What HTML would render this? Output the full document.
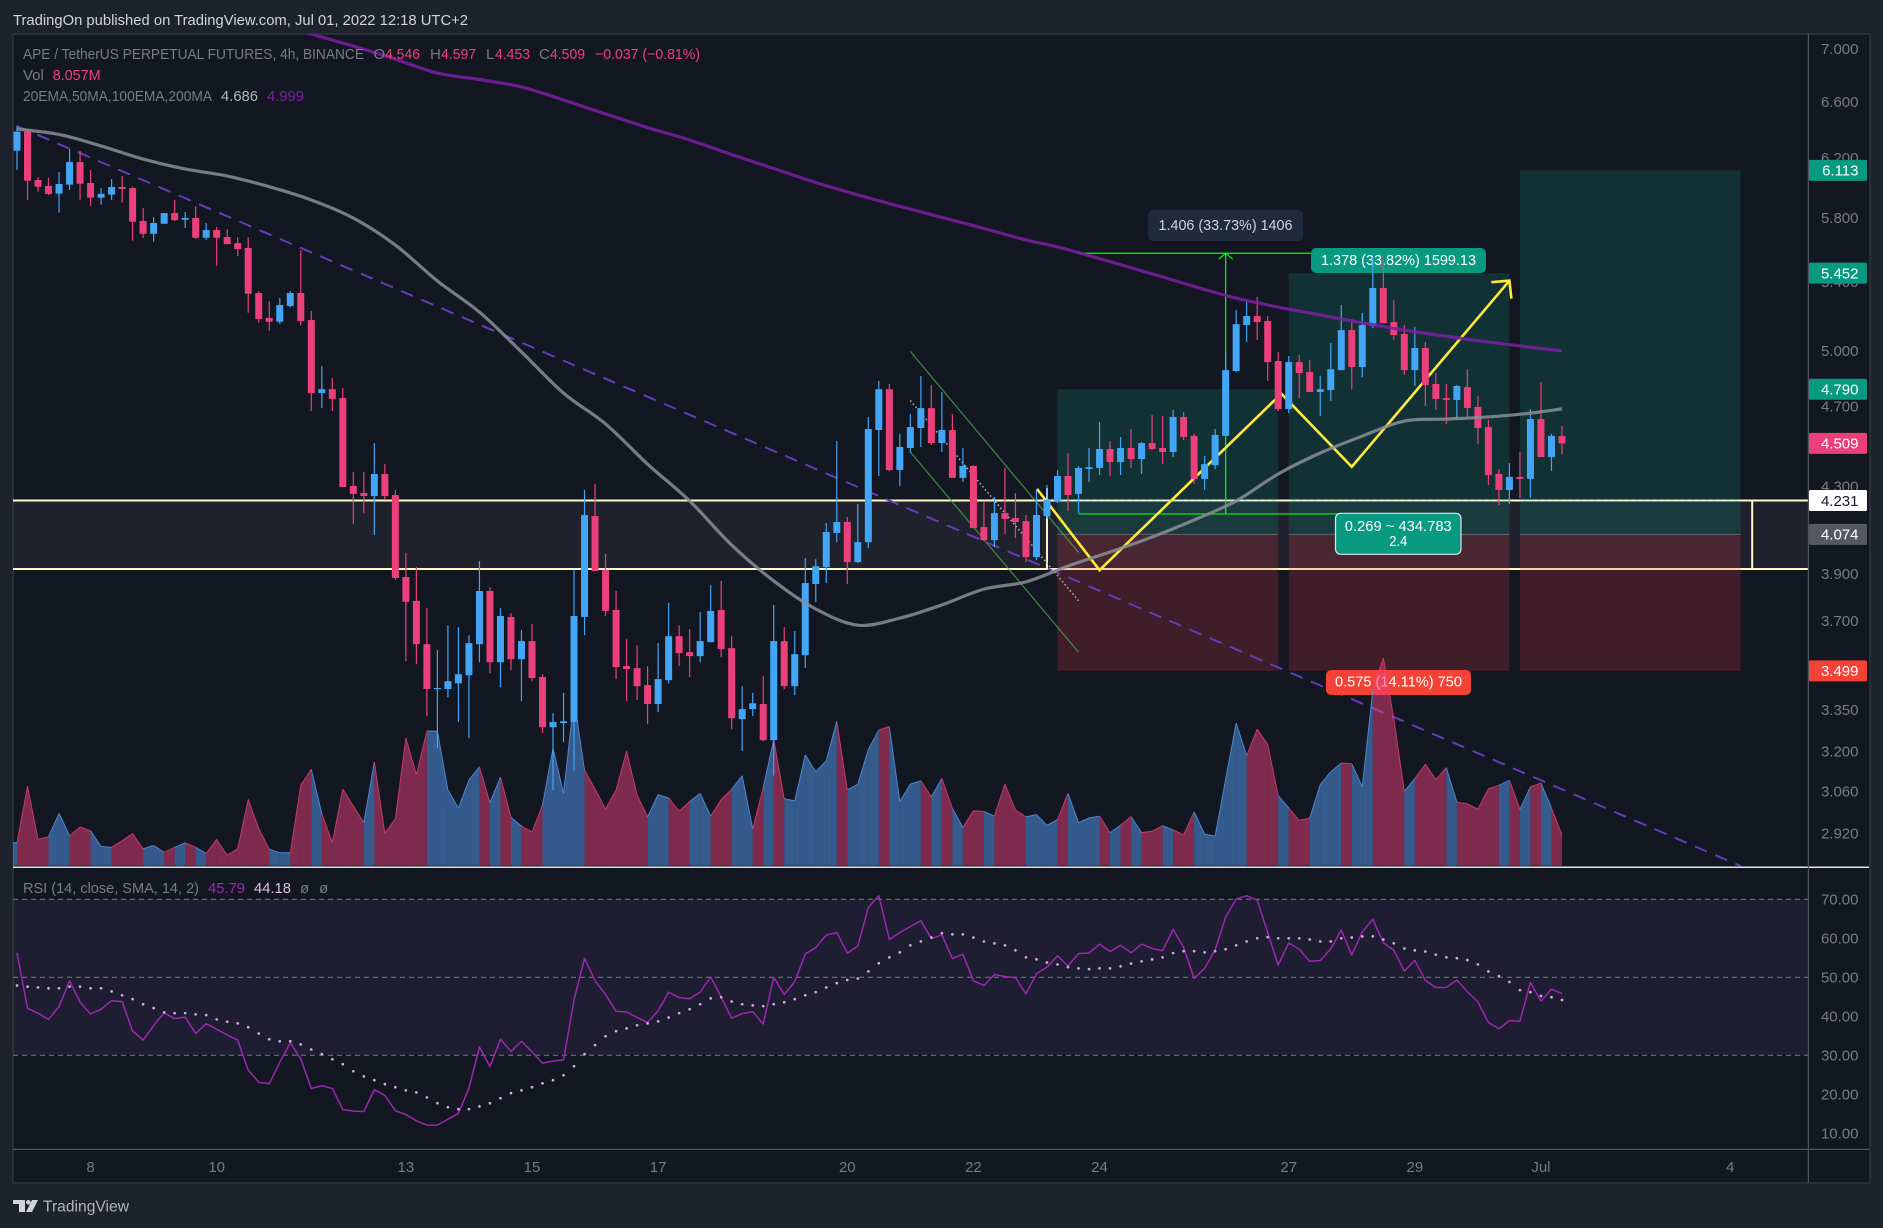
<!DOCTYPE html>
<html lang="en">
<head>
<meta charset="utf-8">
<title>APE / TetherUS Perpetual Futures 4h chart</title>
<style>
  html, body { margin: 0; padding: 0; background: #1e222d; width: 1883px; height: 1228px; overflow: hidden; }
  svg { display: block; }
  text { font-family: "Liberation Sans", sans-serif; }
</style>
</head>
<body>
<svg id="chart" xmlns="http://www.w3.org/2000/svg" width="1883" height="1228" viewBox="0 0 1883 1228">
  <defs>
    <clipPath id="price-clip"><rect x="13" y="34" width="1795" height="832.5"/></clipPath>
    <clipPath id="rsi-clip"><rect x="13" y="868" width="1795" height="281"/></clipPath>
  </defs>

  <rect x="0" y="0" width="1883" height="1228" fill="#1e222d"/>
  <text x="13" y="25" font-size="15" fill="#d1d4dc" textLength="455" lengthAdjust="spacingAndGlyphs">TradingOn published on TradingView.com, Jul 01, 2022 12:18 UTC+2</text>

  <rect x="13" y="34" width="1857" height="1149" fill="#131722" stroke="#2a2e39" stroke-width="2"/>

  <g id="drawings-back" clip-path="url(#price-clip)"></g>
  <g id="volume-layer" clip-path="url(#price-clip)"></g>
  <g id="candle-layer" clip-path="url(#price-clip)"></g>
  <g id="ma-layer" clip-path="url(#price-clip)"></g>

  <g id="rsi-layer" clip-path="url(#rsi-clip)"></g>

  <line x1="13" y1="867.3" x2="1869" y2="867.3" stroke="#e0e3eb" stroke-width="1.5"/>
  <line x1="13" y1="1149.4" x2="1869" y2="1149.4" stroke="#50535e" stroke-width="1.2"/>
  <line x1="1808.4" y1="34" x2="1808.4" y2="1183" stroke="#50535e" stroke-width="1.2"/>

  <g id="price-axis"></g>
  <g id="rsi-axis"></g>
  <g id="time-axis"></g>
  <g id="price-tags"></g>

  <g font-size="15">
    <text x="23" y="59" fill="#787b86" textLength="341" lengthAdjust="spacingAndGlyphs">APE / TetherUS PERPETUAL FUTURES, 4h, BINANCE</text>
    <text x="373.5" y="59" fill="#787b86">O</text>
    <text x="385" y="59" fill="#ec407a" textLength="35" lengthAdjust="spacingAndGlyphs">4.546</text>
    <text x="430" y="59" fill="#787b86">H</text>
    <text x="441" y="59" fill="#ec407a" textLength="35" lengthAdjust="spacingAndGlyphs">4.597</text>
    <text x="486" y="59" fill="#787b86">L</text>
    <text x="495" y="59" fill="#ec407a" textLength="35" lengthAdjust="spacingAndGlyphs">4.453</text>
    <text x="539" y="59" fill="#787b86">C</text>
    <text x="550" y="59" fill="#ec407a" textLength="35" lengthAdjust="spacingAndGlyphs">4.509</text>
    <text x="595" y="59" fill="#ec407a" textLength="105" lengthAdjust="spacingAndGlyphs">−0.037 (−0.81%)</text>
    <text x="23" y="80" fill="#787b86">Vol</text>
    <text x="52.6" y="80" fill="#ec407a" textLength="48" lengthAdjust="spacingAndGlyphs">8.057M</text>
    <text x="23" y="101" fill="#787b86" textLength="189" lengthAdjust="spacingAndGlyphs">20EMA,50MA,100EMA,200MA</text>
    <text x="221" y="101" fill="#b2b5be" textLength="37" lengthAdjust="spacingAndGlyphs">4.686</text>
    <text x="267" y="101" fill="#7b1fa2" textLength="37" lengthAdjust="spacingAndGlyphs">4.999</text>
    <text x="23" y="893" fill="#787b86" textLength="176" lengthAdjust="spacingAndGlyphs">RSI (14, close, SMA, 14, 2)</text>
    <text x="208" y="893" fill="#9c27b0" textLength="37" lengthAdjust="spacingAndGlyphs">45.79</text>
    <text x="254" y="893" fill="#e1bee7" textLength="37" lengthAdjust="spacingAndGlyphs">44.18</text>
    <text x="300" y="893" fill="#787b86">ø</text>
    <text x="319" y="893" fill="#787b86">ø</text>
  </g>

  <g>
    <path fill="#d1d4dc" d="M13 1200h12v12h-6v-8h-6z M32 1200h6l-6 12h-6z"/>
    <circle cx="28.3" cy="1202.3" r="2.3" fill="#d1d4dc"/>
    <text x="43" y="1211.7" font-size="16" fill="#b2b5be" textLength="86" lengthAdjust="spacingAndGlyphs">TradingView</text>
  </g>

<script>
// ---- chart data ----
const opens = [6.249,6.383,6.048,6.008,5.957,6.017,6.170,6.028,5.930,5.950,
6.001,5.994,5.778,5.696,5.760,5.829,5.786,5.797,5.671,5.720,
5.675,5.637,5.607,5.332,5.186,5.164,5.255,5.332,5.174,4.769,
4.790,4.743,4.300,4.267,4.252,4.358,4.257,3.885,3.783,3.605,
3.429,3.429,3.451,3.482,3.605,3.825,3.533,3.715,3.545,3.617,
3.475,3.286,3.301,3.305,3.716,4.158,3.915,3.745,3.518,3.510,
3.444,3.372,3.463,3.637,3.573,3.557,3.613,3.745,3.589,3.316,
3.353,3.372,3.239,3.617,3.440,3.561,3.855,3.928,4.081,4.131,
3.950,4.039,4.577,4.790,4.377,4.486,4.587,4.690,4.511,4.577,
4.339,4.397,4.108,4.048,4.172,4.149,4.135,3.972,4.158,4.229,
4.348,4.262,4.382,4.387,4.481,4.416,4.486,4.431,4.511,4.486,
4.466,4.644,4.547,4.334,4.401,4.547,4.888,5.145,5.197,5.168,
4.943,4.685,4.937,4.883,4.775,4.785,4.893,5.116,4.910,5.139,
5.362,5.162,5.094,4.893,5.015,4.818,4.743,4.733,4.801,4.696,
4.592,4.358,4.281,4.344,4.334,4.633,4.441,4.546];
const highs = [6.423,6.388,6.068,6.063,6.102,6.261,6.247,6.116,5.994,6.055,
6.075,6.003,5.862,5.803,5.829,5.915,5.836,5.875,5.765,5.739,
5.726,5.675,5.675,5.344,5.284,5.302,5.344,5.594,5.226,4.915,
4.850,4.796,4.367,4.367,4.511,4.406,4.281,3.991,3.928,3.753,
3.581,3.682,3.674,3.641,3.954,3.842,3.753,3.732,3.662,3.687,
3.486,3.338,3.414,3.915,4.281,4.310,3.986,3.825,3.625,3.601,
3.517,3.609,3.775,3.682,3.666,3.737,3.850,3.868,3.637,3.440,
3.414,3.478,3.766,3.674,3.658,3.968,3.963,4.126,4.521,4.154,
4.214,4.644,4.834,4.818,4.557,4.659,4.861,4.812,4.775,4.659,
4.486,4.401,4.224,4.247,4.387,4.266,4.163,4.286,4.305,4.377,
4.461,4.396,4.486,4.618,4.521,4.541,4.582,4.516,4.654,4.649,
4.680,4.670,4.557,4.446,4.582,4.989,5.232,5.284,5.308,5.197,
4.993,4.970,4.976,4.948,4.861,5.043,5.261,5.180,5.215,5.550,
5.557,5.290,5.145,5.133,5.049,4.877,4.818,4.812,4.898,4.754,
4.628,4.382,4.411,4.466,4.685,4.828,4.557,4.597];
const lows = [6.116,5.915,5.970,5.948,5.832,5.981,5.915,5.875,5.884,5.915,
5.897,5.652,5.669,5.646,5.760,5.778,5.733,5.664,5.656,5.496,
5.631,5.557,5.216,5.158,5.112,5.152,5.249,5.142,4.675,4.691,
4.675,4.295,4.122,4.172,4.071,4.238,3.872,3.537,3.525,3.327,
3.210,3.398,3.305,3.246,3.533,3.490,3.436,3.502,3.383,3.459,
3.264,3.063,3.232,3.129,3.642,3.911,3.720,3.467,3.383,3.387,
3.297,3.342,3.451,3.518,3.475,3.533,3.613,3.553,3.279,3.200,
3.327,3.235,3.114,3.429,3.406,3.510,3.778,3.859,4.039,3.855,
3.946,4.012,4.348,4.372,4.300,4.461,4.491,4.501,4.466,4.339,
4.319,4.103,4.044,4.017,4.076,4.057,3.950,3.959,4.145,4.219,
4.181,4.172,4.319,4.353,4.348,4.353,4.387,4.358,4.476,4.406,
4.441,4.526,4.310,4.281,4.382,4.547,4.883,5.049,5.060,4.834,
4.675,4.664,4.743,4.775,4.649,4.727,4.893,4.790,4.855,5.127,
5.156,5.060,4.866,4.807,4.701,4.680,4.608,4.639,4.644,4.506,
4.305,4.210,4.214,4.243,4.243,4.441,4.372,4.453];
const closes = [6.383,6.043,6.003,5.955,6.021,6.170,6.023,5.930,5.955,6.001,
5.988,5.773,5.696,5.765,5.829,5.784,5.797,5.671,5.720,5.671,
5.631,5.600,5.328,5.180,5.164,5.261,5.332,5.168,4.769,4.790,
4.738,4.295,4.262,4.252,4.358,4.252,3.881,3.779,3.605,3.429,
3.433,3.459,3.486,3.609,3.825,3.533,3.720,3.545,3.617,3.471,
3.286,3.305,3.308,3.720,4.163,3.911,3.741,3.514,3.506,3.440,
3.372,3.467,3.637,3.569,3.557,3.617,3.741,3.585,3.319,3.353,
3.375,3.239,3.617,3.440,3.565,3.859,3.932,4.085,4.131,3.950,
4.039,4.582,4.790,4.377,4.491,4.592,4.690,4.511,4.577,4.339,
4.397,4.103,4.048,4.172,4.145,4.131,3.972,4.163,4.233,4.348,
4.257,4.387,4.391,4.481,4.416,4.486,4.431,4.511,4.481,4.466,
4.644,4.541,4.334,4.406,4.552,4.893,5.150,5.197,5.162,4.937,
4.685,4.937,4.877,4.775,4.790,4.898,5.116,4.910,5.145,5.362,
5.156,5.088,4.893,5.015,4.812,4.738,4.733,4.807,4.691,4.587,
4.353,4.281,4.344,4.334,4.633,4.441,4.547,4.509];
const volumes = [5.98,20.7,6.85,7.54,13.6,7.8,10.1,9.02,5.03,4.77,
6.5,8.32,4.42,5.29,3.47,4.77,5.98,4.77,3.21,6.85,
2.69,4.42,17.25,9.71,4.25,3.38,3.38,20.9,25.06,13.6,
5.98,19.9,15.5,11.2,27.0,8.41,12.2,33.2,23.7,35.0,
35.0,19.7,15.0,22.3,25.7,16.4,23.0,12.6,10.3,8.76,
15.8,30.6,18.8,43.4,24.9,19.9,14.7,19.7,29.8,18.4,
12.7,18.5,17.6,14.2,16.7,18.8,12.9,17.2,19.9,23.4,
9.58,20.3,32.8,17.4,16.9,28.8,24.4,27.3,37.6,19.7,
21.2,30.2,35.3,36.2,16.7,21.2,22.1,17.9,22.7,14.9,
10,14.3,14.1,12.9,21.2,14.5,12.7,13.3,10.5,12,
18.8,11.2,12.4,12.9,8.6,10.5,12.8,8.6,8.95,10.4,
9.3,8,14,8.2,7.7,22.5,37.1,28.6,35.5,31.6,
18.2,15,11.8,12.4,21.1,24.4,26.7,26.5,20.5,45.7,
54,38.2,19.3,22.7,26.4,22.4,25.5,16.5,16.1,14.7,
20,20.9,22.2,14.7,20.5,21.5,15,8.057];
const rsiValues = [56.3,42.05,40.8,39.2,42.5,49.1,43.6,40.6,41.8,44,
43.8,36.2,33.9,37.6,40.9,39.4,39.8,35.6,38.1,36.7,
35.2,33.9,26.2,23.1,22.7,28.2,33.2,29.1,21.5,22.2,
21.5,16.1,15.7,15.6,21.2,19.7,15.8,14.8,13.2,12.1,
12.1,13.6,15.1,21.6,32.1,27.1,34.1,31,33.6,30.9,
28,28.5,28.8,44.2,54.9,49.1,45.6,41.3,41.1,39.7,
38.4,41.4,46.2,44.8,44.5,46.2,50.1,44.9,39.5,40.7,
41.2,38,50,45.6,48.9,56,57.6,60.8,61.5,56.2,
58,67.9,70.9,59.7,61.5,63,64.5,59.9,60.9,54.8,
55.9,49.1,47.9,50.7,50.2,49.9,45.8,50.9,52.6,55.5,
52.9,56.1,56.2,58.5,56.6,58.2,56.3,58.5,57.4,56.8,
62.3,57.7,49.7,52.3,57,65.4,70.1,70.9,69.8,61.5,
53.1,58.8,57.2,54.1,54.3,57.3,62.1,55.7,61.6,64.9,
58.9,56.9,51.6,54.3,49.2,47.4,47.4,49.3,46.3,43.7,
38.4,36.8,38.9,38.7,48.7,43.9,47,45.79];
const rsiMaValues = [47.9,47.6,47.4,47.2,47.2,47.6,47.6,47.2,47.2,46.4,
45.4,44.4,43.1,42.1,41,40.8,40.8,40.5,40.3,39.2,
38.6,38.2,37.2,35.6,34.1,33.6,33.6,32.8,31.5,30.3,
29,27.7,25.9,24.6,23.6,22.6,21.8,21,20.5,19.2,
17.7,16.7,16.2,16.2,16.9,17.7,19,20.3,21,21.8,
22.8,23.6,24.9,27.2,30.3,32.6,34.9,36.2,36.9,37.7,
38.2,38.7,39.7,40.8,41.8,43.1,44.6,44.9,43.8,43.1,
42.8,42.6,43.1,43.6,44.4,45.4,46.2,47.4,48.5,49.3,
49.7,51.5,53.6,55.1,56.4,58.2,59.2,60.2,61.3,61,
61,60.2,59.2,58.7,58.2,56.9,55.1,54.6,53.8,53.3,
52.6,52.3,52.1,52.3,52.3,52.8,53.5,54.1,54.6,55.1,
56.2,56.7,56.7,56.4,56.7,57.2,58.2,59.2,60,60.3,
60,60,60,59.7,59.2,59.2,60,60.2,60.5,60.5,
59.7,58.7,57.4,56.9,56.6,55.8,55.1,54.9,54.4,53.3,
51.5,50.3,48.8,46.7,46.2,45.2,44.9,44.18];
const ma50Bars = [0,4,8,12,16,20,24,28,32,36,40,44,48,52,56,60,64,68,72,76,80,84,88,92,96,100,104,108,112,116,120,124,128,132,136,140,144,147];
const ma50Values = [6.402,6.363,6.282,6.191,6.123,6.075,6.003,5.915,5.797,5.625,5.404,5.220,4.993,4.769,4.608,4.406,4.229,4.026,3.868,3.749,3.682,3.711,3.766,3.833,3.864,3.933,3.995,4.062,4.140,4.229,4.358,4.461,4.546,4.623,4.633,4.644,4.664,4.686];
const ma200Bars = [24,28,32,36,40,44,48,52,56,60,64,68,72,76,80,84,88,92,96,100,108,116,124,132,140,147];
const ma200Values = [7.229,7.117,7.022,6.920,6.814,6.765,6.709,6.612,6.510,6.412,6.324,6.222,6.126,6.031,5.948,5.873,5.801,5.730,5.657,5.596,5.447,5.302,5.203,5.116,5.049,4.999];
const priceTicks = [7,6.6,6.2,5.8,5.4,5,4.7,4.3,4.1,3.9,3.7,3.35,3.2,3.06,2.92];
const rsiTicks = [70,60,50,40,30,20,10];
const dayLabels = ["8","10","13","15","17","20","22","24","27","29","Jul","4"];
const dayBars = [7,19,37,49,61,79,91,103,121,133,145,163];
const tagPrices = [6.113,5.452,4.790,4.509,4.231,4.074,3.499];
const tagFills = ["#089981","#089981","#089981","#ec407a","#ffffff","#555860","#f44336"];
const tagInk = ["#fff","#fff","#fff","#fff","#131722","#fff","#fff"];

// ---- axis functions ----
const xOf = i => 17 + 10.51 * i;
const yPrice = p => 350.7 - 897 * Math.log(p / 5);
const yVol = v => 865.7 - v / 0.26;
const yRsi = v => 899.3 + (70 - v) * 3.9;

const NS = "http://www.w3.org/2000/svg";
function mk(tag, parent, attrs) {
  const node = document.createElementNS(NS, tag);
  for (const k in attrs) node.setAttribute(k, attrs[k]);
  parent.appendChild(node);
  return node;
}
function smoothPath(pts) {
  let d = `M${pts[0][0]} ${pts[0][1]}`;
  for (let i = 0; i < pts.length - 1; i++) {
    const p0 = pts[Math.max(0, i - 1)], p1 = pts[i], p2 = pts[i + 1], p3 = pts[Math.min(pts.length - 1, i + 2)];
    const c1x = p1[0] + (p2[0] - p0[0]) / 6, c1y = p1[1] + (p2[1] - p0[1]) / 6;
    const c2x = p2[0] - (p3[0] - p1[0]) / 6, c2y = p2[1] - (p3[1] - p1[1]) / 6;
    d += `C${c1x} ${c1y} ${c2x} ${c2y} ${p2[0]} ${p2[1]}`;
  }
  return d;
}
const UP = "#42a5f5", DOWN = "#ec407a";
const gDraw = document.getElementById("drawings-back");
const gVol = document.getElementById("volume-layer");
const gCandle = document.getElementById("candle-layer");
const gMa = document.getElementById("ma-layer");
const gRsi = document.getElementById("rsi-layer");
const gPriceAxis = document.getElementById("price-axis");
const gRsiAxis = document.getElementById("rsi-axis");
const gTimeAxis = document.getElementById("time-axis");
const gTags = document.getElementById("price-tags");
let el;

// ---- support zone ----
const zoneTop = 4.231, zoneBottom = 3.92, zoneEndBar = 165.1;
el = mk("rect", gDraw, {x:13, y:yPrice(zoneTop), width:1795, height:yPrice(zoneBottom)-yPrice(zoneTop), fill:"rgba(255,255,255,0.05)"});


for (const p of [zoneTop, zoneBottom]) {
  el = mk("line", gDraw, {x1:13, x2:1808, y1:yPrice(p), y2:yPrice(p), stroke:"#fff9c4", "stroke-width":2});
  
  
}
el = mk("line", gDraw, {x1:xOf(zoneEndBar), x2:xOf(zoneEndBar), y1:yPrice(zoneTop), y2:yPrice(zoneBottom), stroke:"#fff9c4", "stroke-width":2});


el = mk("line", gDraw, {x1:xOf(98), x2:xOf(98), y1:yPrice(4.29), y2:yPrice(zoneBottom), stroke:"#fff9c4", "stroke-width":2});



// ---- long position tools ----
const posStart = [99,121,143];
const posEnd = [120,142,164];
const posTarget = [4.790,5.452,6.113];
const posEntry = 4.074, posStop = 3.499;
posStart.forEach((s, k) => {
  const x0 = xOf(s), x1 = xOf(posEnd[k]);
  let r = mk("rect", gDraw, {x:x0, y:yPrice(posTarget[k]), width:x1-x0, height:yPrice(posEntry)-yPrice(posTarget[k]), fill:"rgba(8,153,129,0.2)"});
  
  
  r = mk("rect", gDraw, {x:x0, y:yPrice(posEntry), width:x1-x0, height:yPrice(posStop)-yPrice(posEntry), fill:"rgba(242,54,69,0.2)"});
  
  
  r = mk("line", gDraw, {x1:x0, x2:x1, y1:yPrice(posEntry), y2:yPrice(posEntry), stroke:"#787b86", "stroke-opacity":0.7, "stroke-width":1});
  
  
});
el = mk("line", gDraw, {x1:xOf(99), x2:xOf(164), y1:yPrice(zoneTop), y2:yPrice(zoneTop), stroke:"#ffffff", "stroke-opacity":0.8, "stroke-width":1, "stroke-dasharray":"4 3"});



// ---- trend line, channel, dotted path ----
const trendBars = [0,164], trendPrices = [6.423,2.815];
el = mk("line", gDraw, {x1:xOf(trendBars[0]), y1:yPrice(trendPrices[0]), x2:xOf(trendBars[1]), y2:yPrice(trendPrices[1]), stroke:"#673ab7", "stroke-width":2, "stroke-dasharray":"13 9"});



const channelBars = [85,101];
const channelUpper = [4.996,3.993], channelLower = [4.466,3.573], channelMid = [4.73,3.784];
el = mk("line", gDraw, {x1:xOf(channelBars[0]), y1:yPrice(channelUpper[0]), x2:xOf(channelBars[1]), y2:yPrice(channelUpper[1]), stroke:"#4caf50", "stroke-opacity":0.75, "stroke-width":1.2});


el = mk("line", gDraw, {x1:xOf(channelBars[0]), y1:yPrice(channelLower[0]), x2:xOf(channelBars[1]), y2:yPrice(channelLower[1]), stroke:"#4caf50", "stroke-opacity":0.75, "stroke-width":1.2});


el = mk("line", gDraw, {x1:xOf(channelBars[0]), y1:yPrice(channelMid[0]), x2:xOf(channelBars[1]), y2:yPrice(channelMid[1]), stroke:"#b2b5be", "stroke-width":1.5, "stroke-dasharray":"1.5 2.5"});



// ---- measure tool ----
const measureBars = [101,115,129], measureTop = 5.574, measureBottom = 4.168;
for (const p of [measureTop, measureBottom]) {
  el = mk("line", gDraw, {x1:xOf(measureBars[0]), x2:xOf(measureBars[2]), y1:yPrice(p), y2:yPrice(p), stroke:"#00ff00", "stroke-width":1.2});
  
  
}
const mx = xOf(measureBars[1]), myT = yPrice(measureTop), myB = yPrice(measureBottom);
el = mk("line", gDraw, {x1:mx, x2:mx, y1:myT, y2:myB, stroke:"#00ff00", "stroke-width":1.2});


el = mk("path", gDraw, {d:`M${mx-7} ${myT+6}L${mx} ${myT}L${mx+7} ${myT+6}`, fill:"none", stroke:"#00ff00", "stroke-width":1.2});



// ---- yellow projection path ----
const zigBars = [97.05,103,120.3,127,142];
const zigPrices = [4.286,3.915,4.766,4.393,5.406];
const zigPts = zigBars.map((b, i) => xOf(b) + "," + yPrice(zigPrices[i])).join(" ");
el = mk("polyline", gDraw, {points:zigPts, fill:"none", stroke:"#ffeb3b", "stroke-width":2.6, "stroke-linejoin":"miter"});


const tipX = xOf(142), tipY = yPrice(5.406);
el = mk("path", gDraw, {d:`M${tipX-18} ${tipY+1.5}L${tipX} ${tipY}L${tipX+2} ${tipY+18}`, fill:"none", stroke:"#ffeb3b", "stroke-width":2.6});



// ---- tool labels ----
function label(name, bx, by, bw, bh, fill, border, lines) {
  const r = mk("rect", gDraw, {x:bx, y:by, width:bw, height:bh, rx:5, fill:fill});
  
  
  if (border) { r.setAttribute("stroke", border); r.setAttribute("stroke-width", 1.2); }
  lines.forEach(l => {
    const t = mk("text", gDraw, {x:bx + bw / 2, y:l.y, "text-anchor":"middle", "font-size":14.4, fill:l.fill || "#fff", textLength:l.w, lengthAdjust:"spacingAndGlyphs"});
    
    
    t.textContent = l.t;
  });
}
label("date-price-range-label", 1148, 210, 155, 31, "#1f2a3d", null, [{t:"1.406 (33.73%) 1406", y:230, w:134, fill:"#d1d4dc"}]);
label("target-stats-label", 1311, 248, 175, 25, "#089981", null, [{t:"1.378 (33.82%) 1599.13", y:265, w:155}]);
label("risk-reward-label", 1335.5, 513.3, 125.5, 41, "#089981", "#e0e3eb", [{t:"0.269 ~ 434.783", y:531, w:107},{t:"2.4", y:546, w:18}]);
label("stop-stats-label", 1326, 670, 145, 25, "#f44336", null, [{t:"0.575 (14.11%) 750", y:686.7, w:127}]);

// ---- volume area, coloured per candle ----
volumes.forEach((v, i) => {
  const up = closes[i] >= opens[i];
  const fill = up ? "rgba(88,158,245,0.5)" : "rgba(236,64,122,0.5)";
  const edge = up ? "rgba(88,158,245,0.75)" : "rgba(236,64,122,0.75)";
  const x1 = xOf(i), y1 = yVol(v);
  const x0 = i ? xOf(i - 1) : 13, y0 = i ? yVol(volumes[i - 1]) : y1;
  const a = mk("polygon", gVol, {points:`${x0},${y0} ${x1},${y1} ${x1},${yVol(0)} ${x0},${yVol(0)}`, fill:fill});
  
  
  const b = mk("line", gVol, {x1:x0, y1:y0, x2:x1, y2:y1, stroke:edge, "stroke-width":1});
  
  
});

// ---- candles ----
opens.forEach((o, i) => {
  const c = closes[i], col = c >= o ? UP : DOWN, x = xOf(i);
  const wick = mk("line", gCandle, {x1:x, x2:x, y1:yPrice(highs[i]), y2:yPrice(lows[i]), stroke:col, "stroke-width":1.2});
  
  
  const top = yPrice(Math.max(o, c)), bot = yPrice(Math.min(o, c));
  const body = mk("rect", gCandle, {x:x - 3.5, y:top, width:7, height:Math.max(1.2, bot - top), fill:col});
  
  
});

// ---- moving averages ----
el = mk("path", gMa, {d:smoothPath(ma200Bars.map((b, i) => [xOf(b), yPrice(ma200Values[i])])), fill:"none", stroke:"#7b1fa2", "stroke-opacity":0.85, "stroke-width":3.2, "stroke-linejoin":"round"});


el = mk("path", gMa, {d:smoothPath(ma50Bars.map((b, i) => [xOf(b), yPrice(ma50Values[i])])), fill:"none", stroke:"#8a8d96", "stroke-opacity":0.85, "stroke-width":3.2, "stroke-linejoin":"round"});



// ---- RSI pane ----
const rsiUpper = 70, rsiMiddle = 50, rsiLower = 30;
el = mk("rect", gRsi, {x:13, y:yRsi(rsiUpper), width:1795, height:yRsi(rsiLower)-yRsi(rsiUpper), fill:"rgba(126,87,194,0.1)"});


for (const v of [rsiUpper, rsiMiddle, rsiLower]) {
  el = mk("line", gRsi, {x1:13, x2:1808, y1:yRsi(v), y2:yRsi(v), stroke:"#787b86", "stroke-width":1, "stroke-dasharray":"5 4"});
  
  
}
el = mk("polyline", gRsi, {points:rsiValues.map((v, i) => xOf(i) + "," + yRsi(v)).join(" "), fill:"none", stroke:"#9c27b0", "stroke-width":1.5, "stroke-linejoin":"round"});


rsiMaValues.forEach((v, i) => {
  const d = mk("circle", gRsi, {cx:xOf(i), cy:yRsi(v), r:1.35, fill:"#d8a8e8"});
  
  
});

// ---- axes ----
priceTicks.forEach(p => {
  const t = mk("text", gPriceAxis, {x:1858.5, y:yPrice(p) + 5.3, "text-anchor":"end", "font-size":15, fill:"#787b86"});
  
  
  t.textContent = p.toFixed(3);
});
rsiTicks.forEach(v => {
  const t = mk("text", gRsiAxis, {x:1858.5, y:yRsi(v) + 5.3, "text-anchor":"end", "font-size":15, fill:"#787b86"});
  
  
  t.textContent = v.toFixed(2);
});
dayLabels.forEach((d, i) => {
  const t = mk("text", gTimeAxis, {x:xOf(dayBars[i]), y:1172, "text-anchor":"middle", "font-size":15, fill:"#787b86"});
  
  
  t.textContent = d;
});
tagPrices.forEach((p, i) => {
  const r = mk("rect", gTags, {x:1809, y:yPrice(p) - 10.5, width:58, height:21, rx:1.5, fill:tagFills[i]});
  
  
  const t = mk("text", gTags, {x:1858.5, y:yPrice(p) + 5.3, "text-anchor":"end", "font-size":15, fill:tagInk[i]});
  
  
  t.textContent = p.toFixed(3);
});
</script>
</svg>
</body>
</html>
